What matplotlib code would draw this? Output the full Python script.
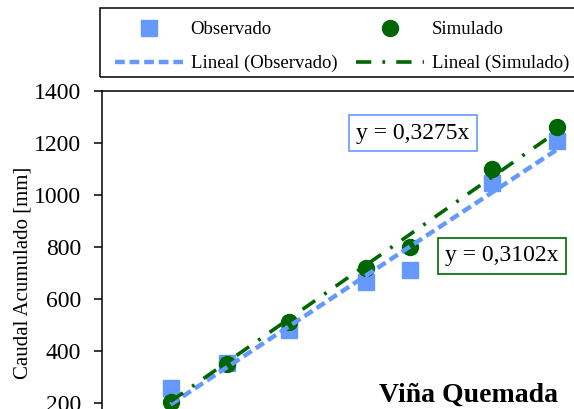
import matplotlib.pyplot as plt
import numpy as np
from matplotlib.patches import Rectangle

plt.rcParams['font.family'] = ['Liberation Serif', 'DejaVu Serif']
plt.rcParams['lines.scale_dashes'] = False

# Data
precip = np.array([602, 1045, 1536, 2146, 2494, 3143, 3658])
observado = np.array([256, 353, 480, 664, 710, 1045, 1206])
simulado = np.array([203, 349, 510, 718, 799, 1098, 1260])
eq_obs = 'y = 0,3275x'
eq_sim = 'y = 0,3102x'
station = 'Viña Quemada'

c_obs = '#6699ff'
c_sim = '#006600'

# Trend lines through the origin
m_obs = np.sum(precip * observado) / np.sum(precip ** 2)
m_sim = np.sum(precip * simulado) / np.sum(precip ** 2)
xl = np.array([precip[0], precip[-1]])

W, H = 574, 409
fig = plt.figure(figsize=(W / 100, H / 100), dpi=100)
ax = fig.add_axes([102 / W, 1 - 454.7 / H, 498 / W, 364 / H])

h1, = ax.plot(precip, observado, 's', color=c_obs, markersize=11, label='Observado', zorder=3)
h2, = ax.plot(precip, simulado, 'o', color=c_sim, markersize=11.5, label='Simulado', zorder=4)
h3, = ax.plot(xl, m_obs * xl, color=c_obs, lw=3.2, dashes=(7, 3.5), label='Lineal (Observado)', zorder=5)
h4, = ax.plot(xl, m_sim * xl, color=c_sim, lw=2.6, dashes=(11, 8, 2, 8), label='Lineal (Simulado)', zorder=6)

ax.set_xlim(60, 4000)
ax.set_ylim(0, 1400)
ax.set_yticks(np.arange(0, 1401, 200))
ax.tick_params(axis='y', direction='out', length=6, width=1.1, labelsize=17, pad=9)
ax.tick_params(axis='x', bottom=False, labelbottom=False)
for s in ['left', 'top']:
    ax.spines[s].set_linewidth(1.1)
    ax.spines[s].set_color('black')
ax.set_ylabel('Caudal Acumulado [mm]', fontsize=15)
ax.yaxis.set_label_coords(-0.14, 0.5)

# Legend (frame drawn separately, it runs past the right edge)
fig.legend(handles=[h1, h3, h2, h4], loc='upper left', bbox_to_anchor=(115 / W, 1 - 21 / H),
           ncol=2, frameon=False, fontsize=13.5, handlelength=3.63, handletextpad=0.4,
           columnspacing=1.0, labelspacing=0.91, borderpad=0, borderaxespad=0)
fig.add_artist(Rectangle((100 / W, 1 - 77 / H), 490 / W, 69 / H, transform=fig.transFigure,
                         fill=False, ec='black', lw=1.1))

fig.text(413 / W, 1 - 133 / H, eq_obs, fontsize=17, ha='center', va='center',
         bbox=dict(boxstyle='square,pad=0.3', fc='white', ec=c_obs, lw=1.2))
fig.text(502 / W, 1 - 256 / H, eq_sim, fontsize=17, ha='center', va='center',
         bbox=dict(boxstyle='square,pad=0.3', fc='white', ec=c_sim, lw=1.2))
fig.text(468.5 / W, 1 - 402 / H, station, fontsize=20, fontweight='bold',
         ha='center', va='baseline')

fig.savefig('out.png', dpi=100)
